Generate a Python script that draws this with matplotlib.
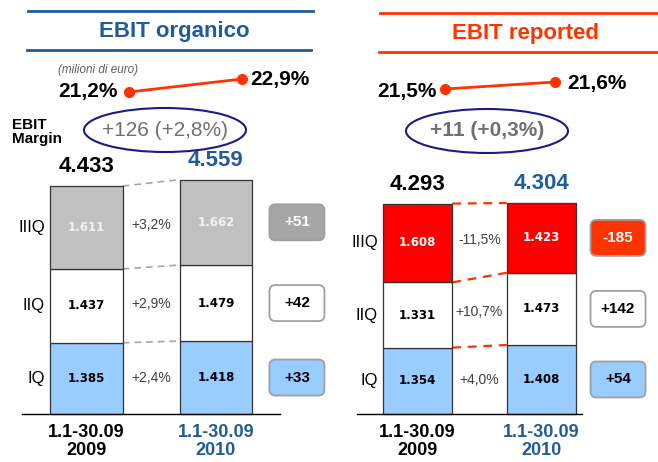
import matplotlib
matplotlib.use("Agg")
import matplotlib.pyplot as plt
from matplotlib.patches import Ellipse, FancyBboxPatch
from matplotlib.lines import Line2D

plt.rcParams['font.family'] = ['Liberation Sans', 'DejaVu Sans']

# === Data ===
quarters = ["IQ", "IIQ", "IIIQ"]
periods = ["1.1-30.09\n2009", "1.1-30.09\n2010"]

org_2009 = [1385, 1437, 1611]
org_2010 = [1418, 1479, 1662]
org_growth = ["+2,4%", "+2,9%", "+3,2%"]
org_delta = ["+33", "+42", "+51"]
org_margin = [21.2, 22.9]
org_change = "+126 (+2,8%)"

rep_2009 = [1354, 1331, 1608]
rep_2010 = [1408, 1473, 1423]
rep_growth = ["+4,0%", "+10,7%", "-11,5%"]
rep_delta = ["+54", "+142", "-185"]
rep_margin = [21.5, 21.6]
rep_change = "+11 (+0,3%)"

# === Style ===
W, H = 658, 462
BASE = 414          # baseline pixel row
BLUE = '#1F5C99'
ORANGE = '#FF3300'
LIGHTBLUE = '#99CCFF'
BAR_W = 0.56

fig = plt.figure(figsize=(W / 100, H / 100), dpi=100)


def fx(px):
    return px / W


def fy(py):
    return 1 - py / H


def fmt(v):
    return f"{v:,}".replace(",", ".")


def margin_line(values, p0, p1, labels_off):
    # small axes holding the EBIT margin line
    (x0, y0), (x1, y1) = p0, p1
    ax = fig.add_axes([fx(x0), fy(y0), (x1 - x0) / W, (y0 - y1) / H])
    ax.set_xlim(0, 1)
    ax.set_ylim(values[0], values[1])
    ax.axis('off')
    ax.plot([0, 1], values, color=ORANGE, lw=2, marker='o', ms=7, clip_on=False)
    (dx0, dy0), (dx1, dy1) = labels_off
    ax.annotate(f"{values[0]:.1f}%".replace(".", ","), (0, values[0]), xytext=(dx0, dy0),
                textcoords='offset pixels', ha='right', va='center',
                fontsize=15, weight='bold')
    ax.annotate(f"{values[1]:.1f}%".replace(".", ","), (1, values[1]), xytext=(dx1, dy1),
                textcoords='offset pixels', ha='left', va='center',
                fontsize=15, weight='bold')


def panel(x0, x1, c0, c1, k, v09, v10, growth, delta, top_color, top_text,
          box_top, dash_color, dash_lw, base_ext, box_x):
    step = c1 - c0
    ax = fig.add_axes([fx(x0), 0, (x1 - x0) / W, 1])
    ax.set_xlim((x0 - c0) / step, (x1 - c0) / step)
    ax.set_ylim(-(H - BASE) * k, BASE * k)
    ax.axis('off')

    colors = [LIGHTBLUE, 'white', top_color]
    txt_colors = ['black', 'black', top_text]
    bottoms = [[0, 0]]
    for q in range(3):
        vals = [v09[q], v10[q]]
        bot = bottoms[-1]
        ax.bar([0, 1], vals, bottom=bot, width=BAR_W, color=colors[q],
               edgecolor='#333333', linewidth=0.9, zorder=2)
        for i in range(2):
            ax.text(i, bot[i] + vals[i] / 2, fmt(vals[i]), ha='center', va='center',
                    fontsize=8.5, weight='bold', color=txt_colors[q],
                    family='DejaVu Sans', zorder=3)
        # quarter label
        ax.text(-BAR_W / 2 - 0.04, bot[0] + vals[0] / 2, quarters[q],
                ha='right', va='center', fontsize=12)
        # growth label between bars
        mid = (bot[0] + vals[0] / 2 + bot[1] + vals[1] / 2) / 2
        ax.text(0.5, mid, growth[q], ha='center', va='center', fontsize=10,
                color='#404040')
        bottoms.append([bot[0] + vals[0], bot[1] + vals[1]])

        # delta box
        cy = bot[1] + vals[1] / 2
        bx, by = fig.transFigure.inverted().transform(ax.transData.transform((box_x, cy)))
        bw, bh = 55 / W, 36 / H
        fc = [LIGHTBLUE, 'white', box_top][q]
        tc = 'white' if q == 2 else 'black'
        fig.add_artist(FancyBboxPatch((bx - bw / 2, by - bh / 2), bw, bh,
                                      boxstyle=f"round,pad=0,rounding_size={6 / W}",
                                      mutation_aspect=W / H,
                                      transform=fig.transFigure, facecolor=fc,
                                      edgecolor='#A0A0A0', linewidth=1.3))
        fig.text(bx, by, delta[q], ha='center', va='center', fontsize=11,
                 weight='bold', color=tc)

    # dashed connectors between bars
    for b in bottoms[1:]:
        ax.plot([BAR_W / 2, 1 - BAR_W / 2], b, color=dash_color, lw=dash_lw,
                ls=(0, (4, 3)), zorder=1)

    # totals
    totals = bottoms[-1]
    for i, c in enumerate(['black', BLUE]):
        ax.annotate(fmt(totals[i]), (i, totals[i]), xytext=(0, 9),
                    textcoords='offset pixels', ha='center', va='bottom',
                    fontsize=16, weight='bold', color=c)
        ax.annotate(periods[i], (i, 0), xytext=(0, -10), textcoords='offset pixels',
                    ha='center', va='top', fontsize=13, weight='bold', color=c,
                    linespacing=1.05)

    ax.plot(base_ext, [0, 0], color='black', lw=1, zorder=3)
    return ax


panel(0, 329, 86.5, 216, 19.45, org_2009, org_2010, org_growth, org_delta,
      '#C0C0C0', '#F2F2F2', '#A6A6A6', '#A6A6A6', 1.2, [-0.498, 1.494], 1.625)
panel(329, 658, 417.5, 541.5, 20.4, rep_2009, rep_2010, rep_growth, rep_delta,
      '#FF0000', 'white', ORANGE, ORANGE, 1.6, [-0.488, 1.327], 1.617)

# titles with rules
for (a, b, y), c in [((28, 313, 11), BLUE), ((27, 311, 50), BLUE),
                     ((380, 658, 13), ORANGE), ((379, 658, 52), ORANGE)]:
    fig.add_artist(Line2D([fx(a), fx(b)], [fy(y), fy(y)], color=c, lw=2))
fig.text(fx(174), fy(31), "EBIT organico", ha='center', va='center', fontsize=16,
         weight='bold', color=BLUE)
fig.text(fx(525), fy(33), "EBIT reported", ha='center', va='center', fontsize=16,
         weight='bold', color=ORANGE)

fig.text(fx(98), fy(70), "(milioni di euro)", ha='center', va='center',
         fontsize=8.5, style='italic', color='#606060')
fig.text(fx(12), fy(132), "EBIT\nMargin", ha='left', va='center', fontsize=11,
         weight='bold', linespacing=1.0)

# EBIT margin lines
margin_line(org_margin, (129, 92), (242, 79), ((-11, 1), (8, -1)))
margin_line(rep_margin, (445, 89), (555, 82), ((-8, -3), (12, -2)))

# change ellipses
for (cx, cy), txt, wt in [((165, 130), org_change, 'normal'),
                          ((487, 131), rep_change, 'bold')]:
    fig.add_artist(Ellipse((fx(cx), fy(cy)), 162 / W, 44 / H, transform=fig.transFigure,
                           facecolor='none', edgecolor='#1A1A8C', lw=1.5))
    fig.text(fx(cx), fy(cy), txt, ha='center', va='center', fontsize=15,
             color='#707070', weight=wt)

fig.savefig("out.png", dpi=100)
